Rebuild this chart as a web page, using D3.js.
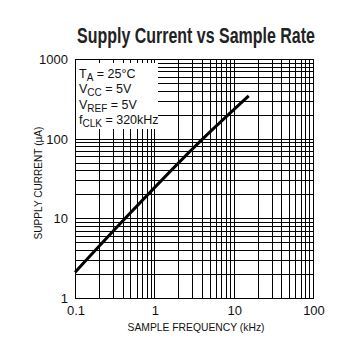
<!DOCTYPE html>
<html><head><meta charset="utf-8">
<script src="https://cdn.jsdelivr.net/npm/d3@7"></script>
<style>
html,body{margin:0;padding:0;background:#fff;}
svg{display:block;}
text{font-family:"Liberation Sans Narrow","Arial Narrow","Liberation Sans",Arial,sans-serif;fill:#111;}
</style></head>
<body><svg id="c" width="354" height="341"></svg>
<script>
// Data
const title = "Supply Current vs Sample Rate";
const xTitle = "SAMPLE FREQUENCY (kHz)";
const yTitle = "SUPPLY CURRENT (µA)";
const freqKHz = [0.1, 0.43, 4.1, 15.5];
const supplyUA = [2.1, 10, 100, 345];
const xTicks = [0.1, 1, 10, 100];
const xTickLabels = ["0.1", "1", "10", "100"];
const yTicks = [1, 10, 100, 1000];
const yTickLabels = ["1", "10", "100", "1000"];
const legendLines = [
  ["T", "A", " = 25°C"],
  ["V", "CC", " = 5V"],
  ["V", "REF", " = 5V"],
  ["f", "CLK", " = 320kHz"]
];

const svg = d3.select("#c");
const L = 75, R = 313, T = 59, B = 298;
const x = d3.scaleLog().domain([0.1, 100]).range([L, R]);
const y = d3.scaleLog().domain([1, 1000]).range([B, T]);

function fit(sel, target, base) {
  const w = sel.node().getComputedTextLength();
  if (w > 0) sel.attr("font-size", base * target / w);
}

// grid values
const gridX = [], gridY = [];
for (let d = 0.1; d < 100; d *= 10) for (let k = 1; k <= 9; k++) gridX.push(+(d * k).toPrecision(3));
for (let d = 1; d < 1000; d *= 10) for (let k = 1; k <= 9; k++) gridY.push(+(d * k).toPrecision(3));

const g = svg.append("g");
g.selectAll(".gx").data(gridX).enter().append("line")
  .attr("x1", d => Math.round(x(d)) + 0.5).attr("x2", d => Math.round(x(d)) + 0.5)
  .attr("y1", T).attr("y2", B).attr("stroke", "#000").attr("stroke-width", 1);
g.selectAll(".gy").data(gridY).enter().append("line")
  .attr("y1", d => Math.round(y(d)) + 0.5).attr("y2", d => Math.round(y(d)) + 0.5)
  .attr("x1", L).attr("x2", R).attr("stroke", "#000").attr("stroke-width", 1);

// legend box (white) covering grid in top-left
const boxR = 158, boxB = 129;
g.append("rect").attr("x", L + 1).attr("y", T + 1).attr("width", boxR - L - 1).attr("height", boxB - T - 1).attr("fill", "#fff");
g.selectAll(".st").data(gridX.filter(d => x(d) > L + 2 && x(d) < boxR)).enter().append("line")
  .attr("x1", d => Math.round(x(d)) + 0.5).attr("x2", d => Math.round(x(d)) + 0.5)
  .attr("y1", T).attr("y2", T + 4).attr("stroke", "#000");

// frame
g.append("rect").attr("x", L + 0.5).attr("y", T + 0.5).attr("width", R - L).attr("height", B - T)
  .attr("fill", "none").attr("stroke", "#000").attr("stroke-width", 1);

// data line
const line = d3.line().x((d, i) => x(freqKHz[i])).y((d, i) => y(supplyUA[i])).curve(d3.curveMonotoneX);
g.append("path").datum(supplyUA).attr("d", line).attr("fill", "none").attr("stroke", "#000").attr("stroke-width", 3);

// legend text
const lt = g.append("g");
legendLines.forEach((ln, i) => {
  const t = lt.append("text").attr("x", 79).attr("y", 78 + i * 15.3).attr("font-size", 12.5);
  t.append("tspan").text(ln[0]);
  t.append("tspan").attr("dy", 3).attr("font-size", 10).text(ln[1]);
  t.append("tspan").attr("dy", -3).text(ln[2]);
});

// x tick labels
g.selectAll(".xl").data(xTicks).enter().append("text")
  .attr("x", d => x(d) + 1).attr("y", 315).attr("text-anchor", "middle").attr("font-size", 13)
  .text((d, i) => xTickLabels[i]);
// y tick labels
g.selectAll(".yl").data(yTicks).enter().append("text")
  .attr("x", 68).attr("y", d => y(d) + 5).attr("text-anchor", "end").attr("font-size", 13)
  .text((d, i) => yTickLabels[i]);

// axis titles
const xt = g.append("text").attr("x", 196).attr("y", 331).attr("text-anchor", "middle").attr("font-size", 12.5).text(xTitle);
fit(xt, 137, 12.5);
const yt = g.append("text").attr("transform", "translate(42,183) rotate(-90)").attr("text-anchor", "middle").attr("font-size", 12.5).text(yTitle);
fit(yt, 113, 12.5);

// title: taller condensed look via horizontal scaling
const tg = svg.append("g").attr("transform", "translate(196,43)");
const tt = tg.append("text").attr("x", 0).attr("y", 0).attr("text-anchor", "middle").attr("font-size", 22)
  .attr("font-weight", "bold").style("fill", "#222").text(title);
const tw = tt.node().getComputedTextLength();
if (tw > 0) tg.attr("transform", `translate(196,43) scale(${238 / tw},1)`);
</script></body></html>
